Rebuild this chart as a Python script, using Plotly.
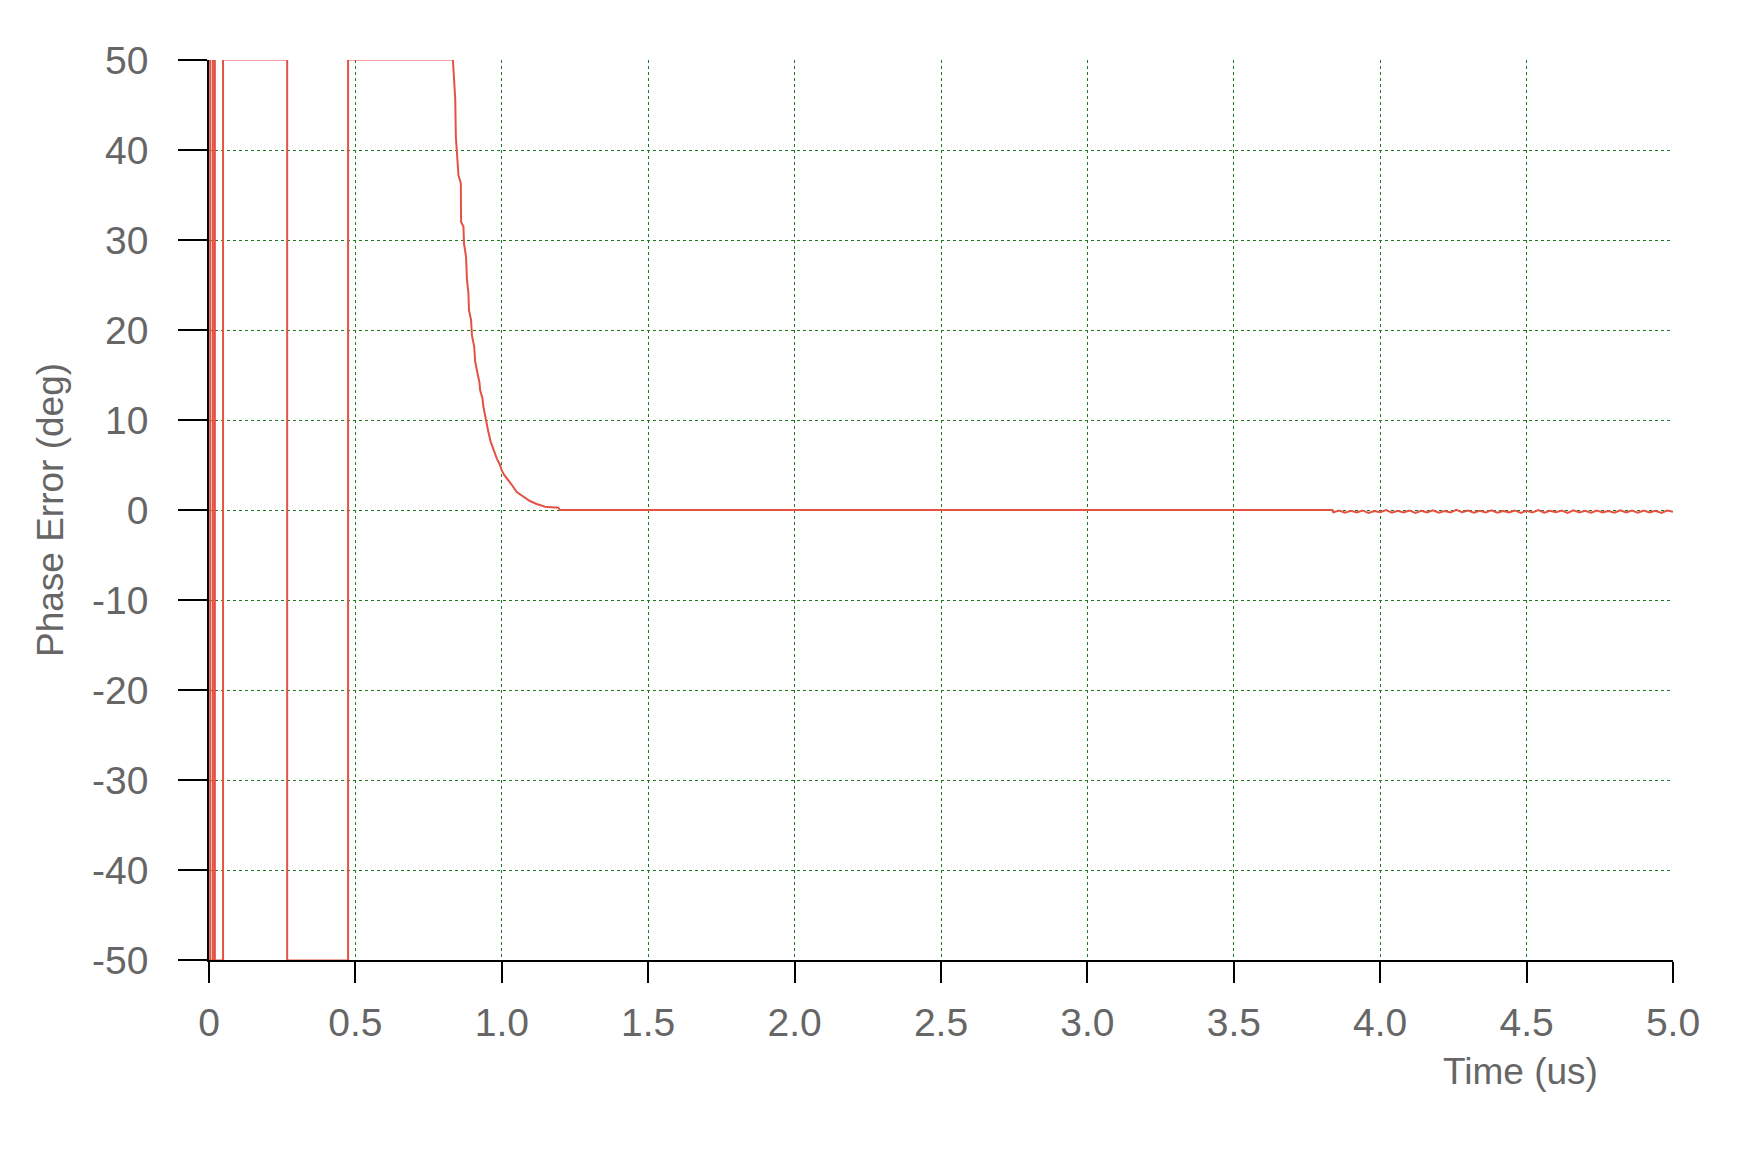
import plotly.graph_objects as go

# phase wrapping at start (trace sits just past the +/-50 edges between jumps)
wrap_time = [0.0, 0.004, 0.004, 0.013, 0.013, 0.020, 0.020, 0.048, 0.048, 0.267, 0.267, 0.475, 0.475]
wrap_phase = [50.05, 50.05, -50.05, -50.05, 50.05, 50.05, -50.05, -50.05, 50.05, 50.05, -50.05, -50.05, 50.05]

# settling curve
settle_time = [0.833, 0.841, 0.843, 0.852, 0.860, 0.861, 0.869, 0.871, 0.878, 0.881, 0.886, 0.888,
               0.895, 0.898, 0.906, 0.909, 0.917, 0.924, 0.926, 0.934, 0.937, 0.945, 0.954, 0.962,
               0.971, 0.983, 0.994, 1.000, 1.008, 1.023, 1.034, 1.051, 1.074, 1.096, 1.119, 1.148,
               1.193, 1.199, 3.836]
settle_phase = [50.05, 45.6, 41.5, 37.2, 36.3, 32.0, 31.5, 29.6, 28.1, 25.6, 24.1, 22.2,
                21.1, 19.4, 18.1, 16.5, 15.2, 14.1, 13.3, 12.4, 11.5, 10.0, 8.7, 7.6,
                6.7, 5.7, 5.0, 4.4, 3.9, 3.3, 2.8, 2.0, 1.5, 1.0, 0.67, 0.37,
                0.26, 0.0, 0.0]

# small jitter after ~3.84 us
tail_time = [3.84, 3.86, 3.88, 3.90, 3.92, 3.94, 3.96, 3.98, 4.00, 4.02, 4.04, 4.06, 4.08, 4.10,
             4.12, 4.14, 4.16, 4.18, 4.20, 4.22, 4.24, 4.26, 4.28, 4.30, 4.32, 4.34, 4.36, 4.38,
             4.40, 4.42, 4.44, 4.46, 4.48, 4.50, 4.52, 4.54, 4.56, 4.58, 4.60, 4.62, 4.64, 4.66,
             4.68, 4.70, 4.72, 4.74, 4.76, 4.78, 4.80, 4.82, 4.84, 4.86, 4.88, 4.90, 4.92, 4.94,
             4.96, 4.98, 5.00]
tail_phase = [-0.25, -0.05, -0.30, -0.10, -0.28, -0.05, -0.32, -0.12, -0.25, -0.02, -0.30, -0.08,
              -0.27, -0.05, -0.33, -0.10, -0.26, -0.04, -0.30, -0.12, -0.28, 0.02, -0.25, -0.06,
              -0.31, -0.09, -0.27, -0.03, -0.30, -0.11, -0.26, -0.05, -0.33, -0.08, -0.28, -0.02,
              -0.30, -0.10, -0.25, -0.06, -0.32, -0.04, -0.27, -0.09, -0.30, -0.05, -0.26, -0.11,
              -0.31, -0.03, -0.28, -0.07, -0.30, -0.05, -0.26, -0.10, -0.32, -0.06, -0.20]

x_ticks = [0, 0.5, 1.0, 1.5, 2.0, 2.5, 3.0, 3.5, 4.0, 4.5, 5.0]
x_labels = ["0", "0.5", "1.0", "1.5", "2.0", "2.5", "3.0", "3.5", "4.0", "4.5", "5.0"]
y_ticks = [50, 40, 30, 20, 10, 0, -10, -20, -30, -40, -50]
y_labels = ["50", "40", "30", "20", "10", "0", "-10", "-20", "-30", "-40", "-50"]

time = wrap_time + settle_time + tail_time
phase = wrap_phase + settle_phase + tail_phase

font = "Liberation Sans, Arial, sans-serif"
grey = "#666666"

fig = go.Figure()
fig.add_trace(go.Scatter(x=time, y=phase, mode="lines",
                         line=dict(color="rgb(228,82,68)", width=2), showlegend=False))

axis_common = dict(showgrid=True, gridcolor="rgb(30,120,30)", griddash="dot", gridwidth=1,
                   zeroline=False, showline=True, linecolor="black", linewidth=1.5,
                   ticks="outside", tickcolor="black", tickwidth=1.5,
                   tickfont=dict(family=font, size=39, color=grey))

fig.update_xaxes(range=[0, 5], tickvals=x_ticks, ticktext=x_labels, ticklen=21,
                 ticklabelstandoff=6, **axis_common)
fig.update_yaxes(range=[-50, 50], tickvals=y_ticks, ticktext=y_labels, ticklen=29,
                 ticklabelstandoff=22, **axis_common)

fig.add_annotation(text="Time (us)", x=4.48, xref="x", y=-0.1244, yref="paper",
                   xanchor="center", yanchor="middle", showarrow=False,
                   font=dict(family=font, size=37, color=grey))
fig.add_annotation(text="Phase Error (deg)", x=-0.1086, xref="paper", y=0.5, yref="paper",
                   xanchor="center", yanchor="middle", textangle=-90, showarrow=False,
                   font=dict(family=font, size=37, color=grey))

# page body adds an 8px margin, so the figure is a bit smaller than the window
fig.update_layout(width=1745, height=1143, plot_bgcolor="white", paper_bgcolor="white",
                  margin=dict(l=201, r=80, t=52, b=191))

fig.write_html("out.html")
